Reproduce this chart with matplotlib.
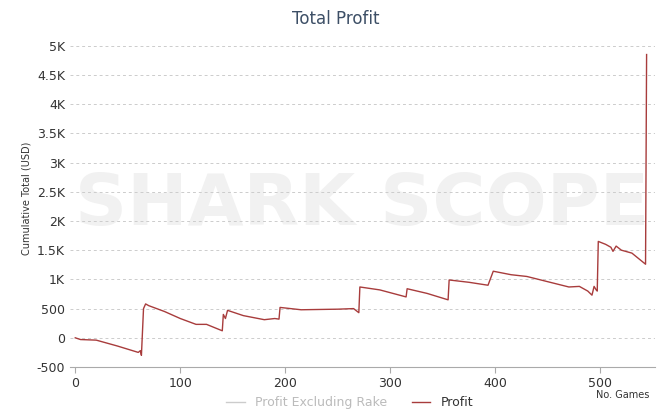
import matplotlib
matplotlib.use("Agg")
import matplotlib.pyplot as plt
from matplotlib.ticker import FuncFormatter

games = [0, 5, 20, 40, 60, 62, 63, 65, 67, 70, 85, 100, 115, 125, 140, 141, 143, 145, 160, 180, 190, 194, 195,
         215, 250, 265, 270, 271, 290, 315, 316, 335, 355, 356, 375, 393, 398, 415, 430, 450, 470, 480, 488, 492,
         494, 496, 497, 498, 505, 510, 512, 515, 520, 530, 543, 544]
profit = [0, -30, -40, -140, -250, -220, -300, 500, 580, 550, 450, 330, 230, 230, 120, 400, 330, 470, 380, 310, 330, 320, 520,
          480, 490, 500, 430, 870, 820, 700, 840, 760, 650, 990, 950, 900, 1140, 1080, 1050, 960, 870, 880, 800, 730,
          880, 820, 800, 1650, 1600, 1550, 1480, 1570, 1500, 1450, 1260, 4850]

fig = plt.figure(figsize=(6.72, 4.16), dpi=100)
ax = fig.add_axes([70/672, 49/416, 585/672, 337/416])
ax.plot(games, profit, color="#a83c3c", lw=1.0, zorder=3)
ax.set_xlim(-5, 552)
ax.set_ylim(-500, 5270)
ax.set_yticks(range(-500, 5001, 500))
ax.set_xticks([0, 100, 200, 300, 400, 500])
ax.yaxis.set_major_formatter(FuncFormatter(lambda v, p: f"{v/1000:g}K" if abs(v) >= 1000 else f"{int(v)}"))
ax.grid(axis="y", color="#cccccc", ls=(0, (3, 3)), lw=0.7)
for s in ["top", "right", "left"]:
    ax.spines[s].set_visible(False)
ax.spines["bottom"].set_color("#aaaaaa")
ax.tick_params(axis="y", length=0, labelsize=9, colors="#333333")
ax.tick_params(axis="x", labelsize=9, colors="#333333", color="#aaaaaa", length=4)
ax.set_ylabel("Cumulative Total (USD)", fontsize=7, color="#333333")
ax.text(0.99, -0.083, "No. Games", transform=ax.transAxes, ha="right", va="center", fontsize=7, color="#333333")
fig.text(0.5, 0.955, "Total Profit", ha="center", va="center", fontsize=12, color="#3d4f66")
ax.text(0.5, 0.48, "SHARK SCOPE", transform=ax.transAxes, ha="center", va="center", fontsize=52,
        fontweight="bold", color="#f1f1f1", zorder=0)
ax.plot([], [], color="#cccccc", lw=1, label="Profit Excluding Rake")
ax.plot([], [], color="#a83c3c", lw=1, label="Profit")
leg = fig.legend(loc="lower center", bbox_to_anchor=(0.52, -0.01), ncol=2, frameon=False, fontsize=9,
                 handlelength=1.5)
leg.get_texts()[0].set_color("#bbbbbb")
leg.get_texts()[1].set_color("#333333")
ax.set_facecolor("none")
fig.savefig("out.png", dpi=100)
